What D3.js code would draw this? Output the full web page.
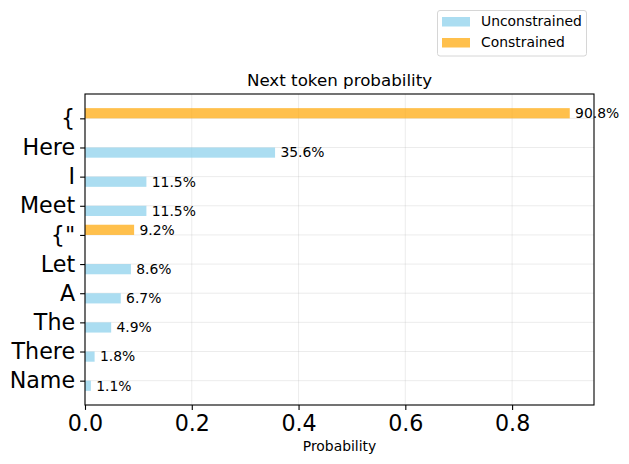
<!DOCTYPE html>
<html><head><meta charset="utf-8">
<script src="https://cdn.jsdelivr.net/npm/d3@7"></script>
<style>body{margin:0;background:#fff}svg{display:block;font-family:"DejaVu Sans",sans-serif}</style>
</head><body><svg id="c" width="629" height="464"></svg>
<script>
const categories = ["{", "Here", "I", "Meet", "{\"", "Let", "A", "The", "There", "Name"];
const unconstrained = [0, 0.356, 0.115, 0.115, 0, 0.086, 0.067, 0.049, 0.018, 0.011];
const constrained = [0.908, 0, 0, 0, 0.092, 0, 0, 0, 0, 0];
const xTicks = [0, 0.2, 0.4, 0.6, 0.8];
const seriesNames = ["Unconstrained", "Constrained"];
const colors = ["#87CEEB", "#FFA500"];

const svg = d3.select("#c");
const L = 85, R = 594, T = 94, B = 405;
const barH = 0.35;
const maxV = d3.max(unconstrained.concat(constrained));
const x = d3.scaleLinear().domain([0, maxV * 1.05]).range([L, R]);
const y = d3.scaleLinear().domain([-0.35 - 0.485, categories.length - 1 + 0.35 + 0.485]).range([T, B]);

// grid
const g = svg.append("g");
g.selectAll(".gx").data(xTicks).join("line")
  .attr("x1", d => x(d)).attr("x2", d => x(d)).attr("y1", T).attr("y2", B)
  .attr("stroke", "#b0b0b0").attr("stroke-opacity", 0.3).attr("stroke-width", 0.8);
g.selectAll(".gy").data(categories).join("line")
  .attr("x1", L).attr("x2", R).attr("y1", (d, i) => y(i)).attr("y2", (d, i) => y(i))
  .attr("stroke", "#b0b0b0").attr("stroke-opacity", 0.3).attr("stroke-width", 0.8);

// bars
const series = [
  {vals: unconstrained, off: barH / 2, color: colors[0]},
  {vals: constrained, off: -barH / 2, color: colors[1]}
];
series.forEach(s => {
  svg.append("g").selectAll("rect").data(s.vals).join("rect")
    .attr("x", x(0))
    .attr("y", (d, i) => y(i + s.off - barH / 2))
    .attr("width", d => x(d) - x(0))
    .attr("height", y(barH) - y(0))
    .attr("fill", s.color).attr("fill-opacity", 0.7);
  svg.append("g").selectAll("text").data(s.vals.map((v, i) => [v, i]).filter(d => d[0] > 0)).join("text")
    .attr("x", d => x(d[0] + 0.01))
    .attr("y", d => y(d[1] + s.off))
    .attr("dy", "0.35em")
    .attr("font-size", "13.9px").attr("fill", "#000")
    .text(d => (d[0] * 100).toFixed(1) + "%");
});

// frame
svg.append("rect").attr("x", L).attr("y", T).attr("width", R - L).attr("height", B - T)
  .attr("fill", "none").attr("stroke", "#000").attr("stroke-width", 1.1);

// x axis
const xa = svg.append("g").attr("transform", `translate(0,${B})`)
  .call(d3.axisBottom(x).tickValues(xTicks).tickFormat(d3.format(".1f")).tickSize(4.9).tickPadding(5.5));
xa.select(".domain").remove();
xa.selectAll("line").attr("stroke", "#000").attr("stroke-width", 1.1);
xa.selectAll("text").attr("font-size", "22.2px").attr("fill", "#000").attr("font-family", "DejaVu Sans");

// y axis
const ya = svg.append("g").attr("transform", `translate(${L},0)`)
  .call(d3.axisLeft(y).tickValues(d3.range(categories.length)).tickFormat(i => categories[i]).tickSize(4.9).tickPadding(5));
ya.select(".domain").remove();
ya.selectAll("line").attr("stroke", "#000").attr("stroke-width", 1.1);
ya.selectAll("text").attr("font-size", "22.2px").attr("fill", "#000").attr("font-family", "DejaVu Sans");

// title & label
svg.append("text").attr("x", (L + R) / 2).attr("y", 86).attr("text-anchor", "middle")
  .attr("font-size", "16.7px").text("Next token probability");
svg.append("text").attr("x", (L + R) / 2).attr("y", 451).attr("text-anchor", "middle")
  .attr("font-size", "13.9px").text("Probability");

// legend
const lg = svg.append("g");
lg.append("rect").attr("x", 437.5).attr("y", 10.5).attr("width", 149).attr("height", 45.5)
  .attr("rx", 2.5).attr("fill", "#fff").attr("stroke", "#d6d6d6").attr("stroke-width", 1);
seriesNames.forEach((n, i) => {
  const cy = 21.5 + i * 21;
  lg.append("rect").attr("x", 442).attr("y", cy - 4.5).attr("width", 28).attr("height", 9.5)
    .attr("fill", colors[i]).attr("fill-opacity", 0.7);
  lg.append("text").attr("x", 481).attr("y", cy).attr("dy", "0.35em")
    .attr("font-size", "13.9px").text(n);
});
</script></body></html>
